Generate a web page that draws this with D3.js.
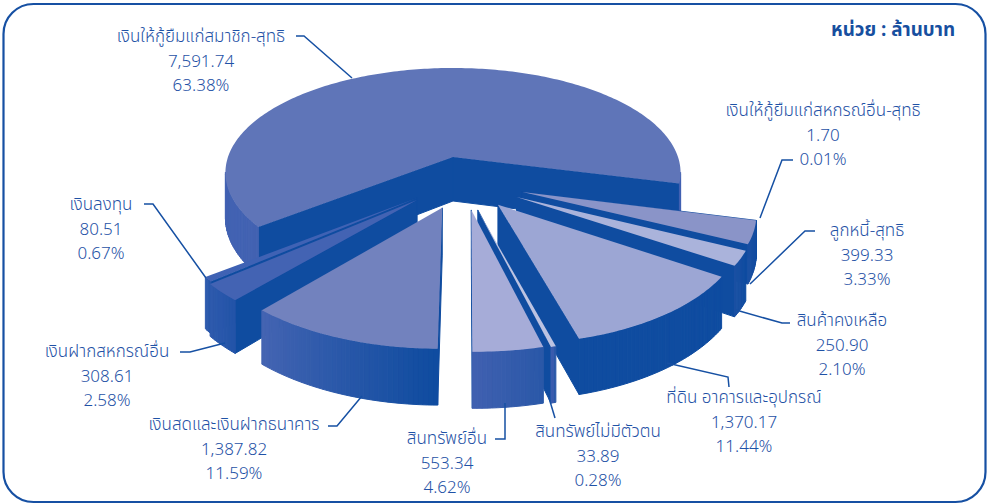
<!DOCTYPE html>
<html><head><meta charset="utf-8">
<script src="https://cdn.jsdelivr.net/npm/d3@7"></script>
<style>html,body{margin:0;padding:0;background:#fff}svg{display:block}</style>
</head><body>
<svg id="c" width="989" height="504"></svg>
<script>
// --- data ---
const names = ["เงินให้กู้ยืมแก่สหกรณ์อื่น-สุทธิ","ลูกหนี้-สุทธิ","สินค้าคงเหลือ","ที่ดิน อาคารและอุปกรณ์","สินทรัพย์ไม่มีตัวตน","สินทรัพย์อื่น","เงินสดและเงินฝากธนาคาร","เงินฝากสหกรณ์อื่น","เงินลงทุน","เงินให้กู้ยืมแก่สมาชิก-สุทธิ"];
const amounts = [1.70,399.33,250.90,1370.17,33.89,553.34,1387.82,308.61,80.51,7591.74];
const amountLabels = ["1.70","399.33","250.90","1,370.17","33.89","553.34","1,387.82","308.61","80.51","7,591.74"];
const percents = ["0.01%","3.33%","2.10%","11.44%","0.28%","4.62%","11.59%","2.58%","0.67%","63.38%"];
const unitLabel = "หน่วย : ล้านบาท";

// --- pie explosion in ground-plane units [sideways, toward viewer], plus per-slice extrusion ---
const explode = [[66,73],[66,73],[60,83],[42,98],[23,108],[17,108],[-10,104],[-34,89],[-34,85],[0,0]];
const radiusFactor = [.97,.97,.98,1,1,1,1,1,1,1];
const depthFactor = [.8,.8,1,1,1,1,1,1,1,1];
const paintOrder = [9,0,1,8,7,2,3,6,4,5];

// --- styles ---
const topColors = ["#8a94c8","#8a94c8","#aab3db","#9ca6d4","#bcc3e2","#a6acd8","#7282be","#4363b3","#3f62b4","#5f75b8"];
const wallFrom = ["#1a50a3","#1a50a3","#1a50a3","#0f4ca0","#3a5cae","#3f60b0","#4464b2","#2e5aad","#2e5aad","#4262b2"];
const wallTo   = ["#0f4ca0","#0f4ca0","#0f4ca0","#0f4ca0","#2a58a8","#2a58a8","#0f4ca0","#2354a8","#2354a8","#4262b2"];
const cutColor = "#0f4ca0", textColor = "#1f52a6", lineColor = "#1650a3";

// --- label layout: centre x, first line y, leader polyline ---
const labelX = [823,867,842,744,598,447,234,107,101,201];
const labelY = [110,230,320,397,431,438,424,351,204,36];
const leaders = [
 [[793,160],[782,160],[760,218]],[[815,231],[805,231],[750,284]],[[790,323],[782,323],[736,310]],
 [[729,387],[728,377],[667,363]],[[555,418],[549,398]],[[495,439],[505,439],[505,403]],
 [[328,426],[337,426],[362,396]],[[180,352],[190,352],[225,343]],[[144,204],[153,204],[206,278]],
 [[296,36],[304,36],[352,78]]];

// --- 3D projection ---
const cx=453, cy=157, R=225, tilt=0.455, persp=1500, depth=44;
const rad=d3.scaleLinear().domain([0,360]).range([0,2*Math.PI]);
function project(x,z,down){const s=1/(1-z/persp);return [cx+x*s, cy+(z*tilt+down*depth)*s];}
function area(q){let t=0;q.forEach((p,i)=>{const n=q[(i+1)%q.length];t+=p[0]*n[1]-n[0]*p[1];});return t;}

const arcs=d3.pie().sort(null).value(d=>d).startAngle(0).endAngle(2*Math.PI)(amounts);
// perspective of the original drawing: slices sit slightly off their exact share
const angle=d3.scaleLinear()
  .domain([0,arcs[4].endAngle,arcs[5].endAngle,arcs[8].endAngle,2*Math.PI])
  .range([rad(104.4),rad(166.2),rad(180.5),rad(231.7),rad(464.4)]);
const svg=d3.select("#c");
svg.append("rect").attr("x",3.5).attr("y",4).attr("width",982).attr("height",498).attr("rx",30)
   .attr("fill","#fff").attr("stroke",lineColor).attr("stroke-width",2.2);
const line=d3.line();
const gPie=svg.append("g");
paintOrder.forEach(i=>{
  const a0=angle(arcs[i].startAngle), a1=angle(arcs[i].endAngle), off=explode[i], r=R*radiusFactor[i], dn=depthFactor[i];
  const steps=Math.max(2,Math.ceil((a1-a0)/rad(1)));
  const world=d3.range(steps+1).map(k=>{const t=a0+(a1-a0)*k/steps;return [off[0]+r*Math.sin(t),off[1]-r*Math.cos(t)];});
  const g=gPie.append("g");
  const corners=(w1,w2)=>[project(w1[0],w1[1],0),project(w2[0],w2[1],0),project(w2[0],w2[1],dn),project(w1[0],w1[1],dn)];
  const quad=(w1,w2,col)=>{
    const q=corners(w1,w2);
    if(area(q)<0) g.append("path").attr("d",line(q)+"Z").attr("fill",col).attr("stroke",col).attr("stroke-width",1);
  };
  quad(off,world[0],cutColor);
  quad(world[steps],off,cutColor);
  const mix=d3.interpolateRgb(wallFrom[i],wallTo[i]);
  const front=d3.range(steps).filter(k=>area(corners(world[k],world[k+1]))<0);
  front.forEach((k,n)=>quad(world[k],world[k+1],mix(1-n/Math.max(1,front.length-1))));
  g.append("path").attr("d",line([off,...world].map(w=>project(w[0],w[1],0)))+"Z").attr("fill",topColors[i]);
});

const font="'Noto Sans Thai','Sarabun','Noto Sans','Open Sans',Lato,sans-serif";
const gLead=svg.append("g").attr("fill","none").attr("stroke",lineColor).attr("stroke-width",1.5);
leaders.forEach(l=>gLead.append("path").attr("d",line(l)));
const gText=svg.append("g").attr("font-family",font).attr("font-size",17).attr("font-weight",300).attr("fill",textColor).attr("text-anchor","middle");
names.forEach((n,i)=>{
  [n,amountLabels[i],percents[i]].forEach((t,j)=>{
    gText.append("text").attr("x",labelX[i]).attr("y",labelY[i]+j*24.5+6).text(t);
  });
});
svg.append("text").attr("x",955).attr("y",36).attr("text-anchor","end").attr("font-family",font)
   .attr("font-size",18.8).attr("font-weight",700).attr("fill","#174f9f").text(unitLabel);
</script>
</body></html>
